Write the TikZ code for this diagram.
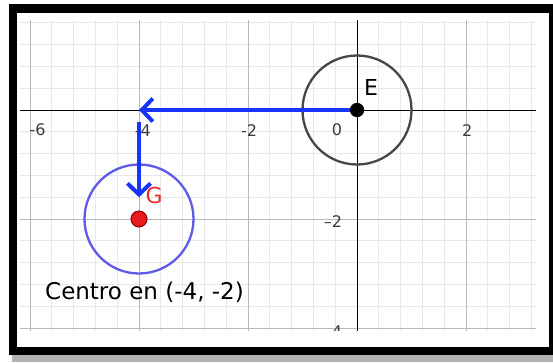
\documentclass[tikz,border=0pt]{standalone}
\usepackage{fontspec}
\setmainfont{DejaVu Sans}
\usetikzlibrary{arrows.meta}
\definecolor{arrowblue}{RGB}{22,52,250}
\definecolor{circblue}{RGB}{95,90,232}
\definecolor{dotred}{RGB}{232,28,28}
\definecolor{labred}{RGB}{235,45,40}
\definecolor{ticklab}{RGB}{60,60,60}
\definecolor{shadowgray}{RGB}{178,178,178}
\tikzset{
  minorgrid/.style={draw=black!9, line width=0.8pt},
  majorgrid/.style={draw=black!28, line width=1pt},
  axisline/.style={draw=black, line width=1pt},
  ticklabel/.style={text=ticklab, font=\fontsize{16}{16}\selectfont, inner sep=0pt},
  vecarrow/.style={draw=arrowblue, line width=4pt, -{Straight Barb[length=11pt,width=23pt]}},
  ptlabel/.style={font=\fontsize{22}{22}\selectfont, inner sep=0pt},
  dotnode/.style={circle, inner sep=0pt}
}
\begin{document}
\begin{tikzpicture}[x=1pt,y=-1pt]
\useasboundingbox (0,0) rectangle (553,362);
% frame with shadow
\fill[shadowgray] (12,352) rectangle (553,362);
\fill[black] (9,4) rectangle (553,355);
\fill[white] (17,13) rectangle (549,347);
\begin{scope}[shift={(357pt,-110pt)}, x=54.5pt, y=54.5pt]
  \begin{scope}
    \clip (-6.18,1.65) rectangle (3.28,-4.04);
    % minor grid
    \foreach \i in {-15,...,8} \draw[minorgrid] (\i*0.4,1.7) -- (\i*0.4,-4.1);
    \foreach \j in {-10,...,4} \draw[minorgrid] (-6.3,\j*0.4) -- (3.4,\j*0.4);
    % major grid
    \foreach \i in {-6,-4,-2,2} \draw[majorgrid] (\i,1.7) -- (\i,-4.1);
    \foreach \j in {-4,-2} \draw[majorgrid] (-6.3,\j) -- (3.4,\j);
    % axes
    \draw[axisline] (-6.3,0) -- (3.4,0);
    \draw[axisline] (0,1.7) -- (0,-4.1);
    % tick labels
    \node[ticklabel] (lxm6) at (-5.86,-0.37) {-6};
    \node[ticklabel] (lxm4) at (-3.93,-0.37) {-4};
    \node[ticklabel] (lxm2) at (-1.98,-0.37) {-2};
    \node[ticklabel] (lx0) at (-0.37,-0.37) {0};
    \node[ticklabel] (lx2) at (2.02,-0.37) {2};
    \node[ticklabel] (lym2) at (-0.44,-2.04) {–2};
    \node[ticklabel] (lym4) at (-0.44,-4.06) {–4};
  \end{scope}
  % circles
  \draw[black!72, line width=2.3pt] (0,0) circle[radius=1];
  \draw[circblue, line width=2.3pt] (-4,-2) circle[radius=1];
  % point labels
  \node[ptlabel, text=black] (lE) at (0.26,0.42) {E};
  \node[ptlabel, text=labred] (lG) at (-3.72,-1.56) {G};
  % vectors
  \coordinate (X4) at (-4,0);
  \coordinate (Vs) at (-4,-0.22);
  \coordinate (Ve) at (-4,-1.6);
  \node[dotnode, fill=black, minimum size=14pt] (E) at (0,0) {};
  \node[dotnode, fill=dotred, draw=red!55!black, line width=1pt, minimum size=16pt] (G) at (-4,-2) {};
  \draw[vecarrow] (E.center) -- (X4);
  \draw[vecarrow] (Vs) -- (Ve);
  \node[dotnode, fill=black, minimum size=14pt] at (E) {};
\end{scope}
\node[anchor=base west, inner sep=0pt, font=\fontsize{23}{23}\selectfont] (cap) at (45,299) {Centro en (-4, -2)};
\end{tikzpicture}
\end{document}
